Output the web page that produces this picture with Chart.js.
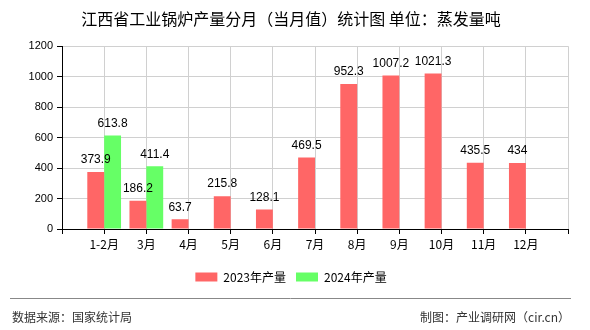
<!DOCTYPE html>
<html>
<head>
<meta charset="utf-8">
<script src="https://cdn.jsdelivr.net/npm/chart.js@4"></script>
<style>
html,body{margin:0;padding:0;background:#fff;}
#wrap{width:590px;height:330px;}
</style>
</head>
<body>
<div id="wrap"><canvas id="c" width="590" height="330"></canvas></div>
<script>
const titleText = '江西省工业锅炉产量分月（当月值）统计图 单位：蒸发量吨';
const categories = ['1-2月','3月','4月','5月','6月','7月','8月','9月','10月','11月','12月'];
const series2023Name = '2023年产量';
const series2024Name = '2024年产量';
const values2023 = [373.9, 186.2, 63.7, 215.8, 128.1, 469.5, 952.3, 1007.2, 1021.3, 435.5, 434];
const values2024 = [613.8, 411.4, null, null, null, null, null, null, null, null, null];
const yTicks = [0, 200, 400, 600, 800, 1000, 1200];
const sourceText = '数据来源：国家统计局';
const creditText = '制图：产业调研网（cir.cn）';

// pad with an empty slot at both ends so ticks sit on the grid lines
const labels = [''].concat(categories, ['']);
const pad = arr => [null].concat(arr, [null]);

const valueLabels = {
  id: 'valueLabels',
  afterDatasetsDraw(chart) {
    const ctx = chart.ctx;
    ctx.save();
    ctx.font = '12px "Liberation Sans", Arial, sans-serif';
    ctx.fillStyle = '#000';
    ctx.textAlign = 'center';
    ctx.textBaseline = 'middle';
    chart.data.datasets.forEach((ds, i) => {
      const meta = chart.getDatasetMeta(i);
      meta.data.forEach((el, j) => {
        const v = ds.data[j];
        if (v === null || v === undefined) return;
        ctx.fillText(String(v), el.x, el.y - 12);
      });
    });
    ctx.restore();
  }
};

const footer = {
  id: 'footer',
  afterDraw(chart) {
    const ctx = chart.ctx;
    ctx.save();
    ctx.strokeStyle = '#888';
    ctx.lineWidth = 1;
    ctx.beginPath();
    ctx.moveTo(10, 298.5);
    ctx.lineTo(571, 298.5);
    ctx.stroke();
    ctx.font = '12px "Noto Sans CJK SC", sans-serif';
    ctx.fillStyle = '#333';
    ctx.textBaseline = 'middle';
    ctx.textAlign = 'left';
    ctx.fillText(sourceText, 12, 317);
    ctx.textAlign = 'right';
    ctx.fillText(creditText, 570, 317);
    ctx.restore();
  }
};

new Chart(document.getElementById('c'), {
  type: 'bar',
  data: {
    labels: labels,
    datasets: [
      { label: series2023Name, data: pad(values2023), backgroundColor: '#ff6666', borderWidth: 0,
        categoryPercentage: 0.8, barPercentage: 1.0 },
      { label: series2024Name, data: pad(values2024), backgroundColor: '#66ff66', borderWidth: 0,
        categoryPercentage: 0.8, barPercentage: 1.0 }
    ]
  },
  options: {
    responsive: false,
    animation: false,
    events: [],
    layout: { padding: { top: 0, left: 14, right: 22, bottom: 37 } },
    plugins: {
      title: {
        display: true,
        text: titleText,
        color: '#000',
        font: { family: '"Noto Sans CJK SC", sans-serif', size: 16, weight: 'normal' },
        padding: { top: 9, bottom: 18 }
      },
      legend: {
        display: true,
        position: 'bottom',
        labels: {
          boxWidth: 22, boxHeight: 9, padding: 10, color: '#000',
          font: { family: '"Noto Sans CJK SC", sans-serif', size: 12 }
        }
      },
      tooltip: { enabled: false }
    },
    scales: {
      x: {
        offset: false,
        grid: { display: true, color: '#d0d0d0', tickColor: '#000', tickLength: 5, offset: false },
        border: { display: true, color: '#000', width: 1 },
        ticks: {
          color: '#000', padding: 3, maxRotation: 0, autoSkip: false,
          font: { family: '"Noto Sans CJK SC", sans-serif', size: 12 }
        },
        afterFit(scale) { scale.height = 32; }
      },
      y: {
        min: 0, max: 1200,
        afterBuildTicks(scale) { scale.ticks = yTicks.map(v => ({ value: v })); },
        grid: { color: '#d0d0d0', tickColor: '#000', tickLength: 5 },
        border: { display: true, color: '#000', width: 1 },
        ticks: {
          color: '#000', padding: 4,
          font: { family: '"Liberation Sans", Arial, sans-serif', size: 11 },
          callback: v => String(v)
        },
        afterFit(scale) { scale.width = 48; }
      }
    }
  },
  plugins: [valueLabels, footer]
});
</script>
</body>
</html>
